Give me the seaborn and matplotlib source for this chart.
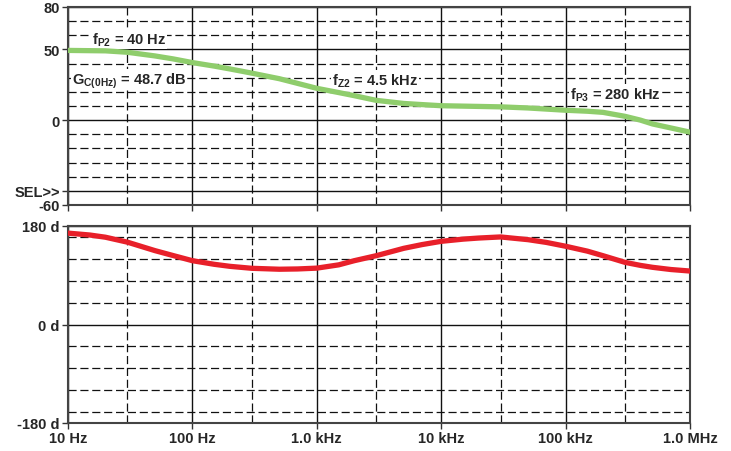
import numpy as np
import pandas as pd
import matplotlib
matplotlib.use("Agg")
import matplotlib.pyplot as plt
from matplotlib.ticker import FixedLocator, NullFormatter
import seaborn as sns

# magnitude curve
mag_freq = [10, 20, 30, 50, 70, 100, 150, 200, 290, 500, 700, 1000, 1500, 2000,
            3000, 5000, 7000, 10000, 20000, 30000, 50000, 100000, 150000,
            200000, 300000, 400000, 500000, 700000, 1000000]
mag_db = [49.3, 49.0, 48.0, 45.4, 43.3, 40.7, 38.2, 36.2, 33.5, 29.3, 26.0, 22.5,
          19.5, 17.3, 14.0, 11.8, 11.0, 10.2, 9.7, 9.4, 8.6, 7.0, 6.3,
          5.5, 2.7, 0.0, -2.7, -5.5, -8.5]

# phase curve
ph_freq = [10, 15, 20, 30, 50, 70, 100, 150, 200, 300, 500, 700, 1000, 1500, 2000,
           3000, 5000, 7000, 10000, 15000, 20000, 30000, 50000, 70000, 100000,
           150000, 200000, 300000, 400000, 500000, 700000, 1000000]
ph_deg = [167, 163.5, 159.5, 150.5, 135, 126, 116.6, 110, 106.3, 102.7, 101, 101.5,
          103, 109, 116.6, 125.7, 139.2, 146, 152, 156, 158, 160, 155, 150, 143,
          134, 125.7, 113.6, 108, 104.5, 100.5, 97.7]

x_ticks = [10, 100, 1e3, 1e4, 1e5, 1e6]
x_labels = ["10 Hz", "100 Hz", "1.0 kHz", "10 kHz", "100 kHz", "1.0 MHz"]
x_minor = [30, 300, 3e3, 3e4, 3e5]

mag_ticks = [80, 50, 0, -50, -60]
mag_labels = ["80", "50", "0", "SEL>>", "-60"]
mag_minor = [70, 60, 40, 30, 20, 10, -10, -20, -30, -40]

ph_ticks = [180, 0, -180]
ph_labels = ["180 d", "0 d", "-180 d"]
ph_minor = [160, 120, 80, 40, -40, -80, -120, -160]

# annotations: (freq, dB, text)
notes = [
    (15.6, 57.0, r"f$_{\mathbf{P2}}$ = 40 Hz"),
    (10.8, 28.5, r"G$_{\mathbf{C(0Hz)}}$ = 48.7 dB"),
    (1330, 28.5, r"f$_{\mathbf{Z2}}$ = 4.5 kHz"),
    (108000, 18.5, r"f$_{\mathbf{P3}}$ = 280 kHz"),
]

sns.set_style("white")
plt.rcParams["font.family"] = ["Liberation Sans", "DejaVu Sans"]
plt.rcParams["font.weight"] = "bold"
plt.rcParams["mathtext.fontset"] = "custom"
plt.rcParams["mathtext.rm"] = "Liberation Sans:bold"
plt.rcParams["mathtext.bf"] = "Liberation Sans:bold"

mag_df = pd.DataFrame({"freq": mag_freq, "db": mag_db})
ph_df = pd.DataFrame({"freq": ph_freq, "deg": ph_deg})

fig = plt.figure(figsize=(7.31, 4.52), dpi=100)
ax1 = fig.add_axes([68 / 731, 1 - 206 / 452, 622 / 731, 198 / 452])
ax2 = fig.add_axes([68 / 731, 1 - 424 / 452, 622 / 731, 197 / 452])

sns.lineplot(data=mag_df, x="freq", y="db", ax=ax1, color="#8fcd6c", lw=3.8,
             zorder=5, solid_joinstyle="round")
sns.lineplot(data=ph_df, x="freq", y="deg", ax=ax2, color="#e8202a", lw=3.8,
             zorder=5, solid_joinstyle="round")

dash = (0, (6.5, 3))


def style_axes(ax, yticks, ylabels, yminor, ylim):
    ax.set_xscale("log")
    ax.set_xlim(10, 1e6)
    ax.set_ylim(*ylim)
    ax.xaxis.set_major_locator(FixedLocator(x_ticks))
    ax.xaxis.set_minor_locator(FixedLocator(x_minor))
    ax.xaxis.set_minor_formatter(NullFormatter())
    ax.set_yticks(yticks)
    ax.set_yticklabels(ylabels)
    ax.yaxis.set_minor_locator(FixedLocator(yminor))
    ax.grid(True, which="major", color="#111111", lw=1.0, ls="-")
    ax.grid(True, which="minor", color="#111111", lw=0.9, ls=dash)
    ax.tick_params(which="major", direction="out", length=4, width=1,
                   color="#333333", labelsize=10.5, pad=2)
    ax.tick_params(which="minor", length=0)
    ax.tick_params(axis="x", bottom=True)
    ax.tick_params(axis="y", left=True)
    for s in ax.spines.values():
        s.set_color("#444444")
        s.set_linewidth(1.5)
    ax.set_xlabel("")
    ax.set_ylabel("")


style_axes(ax1, mag_ticks, mag_labels, mag_minor, (-60, 80))
style_axes(ax2, ph_ticks, ph_labels, ph_minor, (-180, 180))
ax1.set_xticklabels([])
ax2.set_xticks(x_ticks)
ax2.set_xticklabels(x_labels)
for lab in ax1.get_yticklabels() + ax2.get_yticklabels() + ax2.get_xticklabels():
    lab.set_fontweight("bold")

for fx, fy, txt in notes:
    ax1.text(fx, fy, txt, fontsize=10.5, fontweight="bold", ha="left", va="center",
             zorder=4, bbox=dict(facecolor="white", edgecolor="none", pad=0.5))

fig.savefig("out.png", dpi=100)
